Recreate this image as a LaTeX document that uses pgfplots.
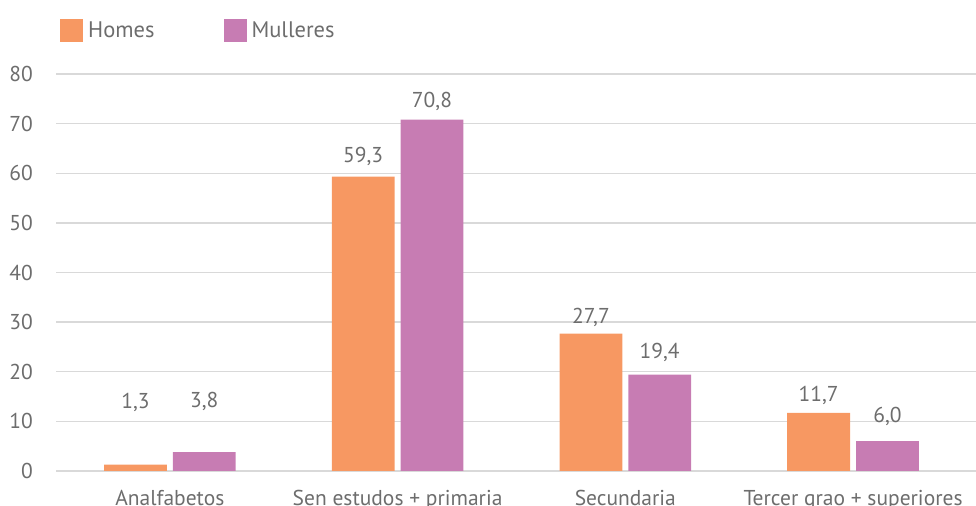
\documentclass[border=0pt]{standalone}
\usepackage{pgfplots}
\pgfplotsset{compat=1.18}
\usepackage{fontspec}
\setmainfont{PT Sans}
\definecolor{homes}{HTML}{F79862}
\definecolor{mulleres}{HTML}{C77CB3}
\definecolor{txt}{HTML}{6D6D6D}
\definecolor{gridc}{HTML}{D9D9D9}

\pgfplotstableread{
x      y     l
-0.151 13.8  1,3
0.151  14.0  3,8
0.849  63.3  59,3
1.151  74.4  70,8
1.849  31.0  27,7
2.151  23.8  19,4
2.849  15.3  11,7
3.151  10.9  6,0
}\labels

\begin{document}
\begin{tikzpicture}[x=1bp,y=1bp]
\begin{axis}[
    at={(56bp,35bp)}, anchor=south west,
    scale only axis, width=920bp, height=397bp,
    xmin=-0.5, xmax=3.54, ymin=0, ymax=80,
    ytick={0,10,...,80},
    xtick={0,1,2,3},
    xticklabels={Analfabetos, Sen estudos + primaria, Secundaria, Tercer grao + superiores},
    major tick length=0pt,
    axis line style={draw=none},
    ymajorgrids, grid style={gridc, line width=1.3bp},
    tick label style={font=\fontsize{21.5bp}{24bp}\selectfont, text=txt},
    /pgf/number format/assume math mode=true,
    yticklabel style={inner sep=0pt, anchor=east, xshift=-23bp},
    xticklabel style={inner sep=0pt, anchor=north, yshift=-19bp},
    legend columns=2,
    legend style={at={(0,1)}, anchor=south west, xshift=4bp, yshift=32bp,
      draw=none, fill=none, inner sep=0pt,
      font=\fontsize{22.5bp}{24bp}\selectfont, text=txt,
      /tikz/every odd column/.append style={column sep=3bp},
      /tikz/every even column/.append style={column sep=67bp}},
    legend image code/.code={\fill[#1] (0bp,-11.5bp) rectangle (23bp,11.5bp);},
  ]
  \addplot[ybar, bar width=0.276, bar shift=-0.151, fill=homes, draw=none]
    coordinates {(0,1.3) (1,59.3) (2,27.7) (3,11.7)};
  \addplot[ybar, bar width=0.276, bar shift=0.151, fill=mulleres, draw=none]
    coordinates {(0,3.8) (1,70.8) (2,19.4) (3,6.0)};
  \addplot[forget plot, draw=none, mark=none, nodes near coords, point meta=explicit symbolic,
    every node near coord/.style={anchor=center, inner sep=0pt, text=txt,
      font=\fontsize{21.5bp}{24bp}\selectfont}]
    table[x=x, y=y, meta=l] {\labels};
  \legend{Homes, Mulleres}
\end{axis}
\pgfresetboundingbox
\useasboundingbox (0,0) rectangle (976,506);
\end{tikzpicture}
\end{document}
